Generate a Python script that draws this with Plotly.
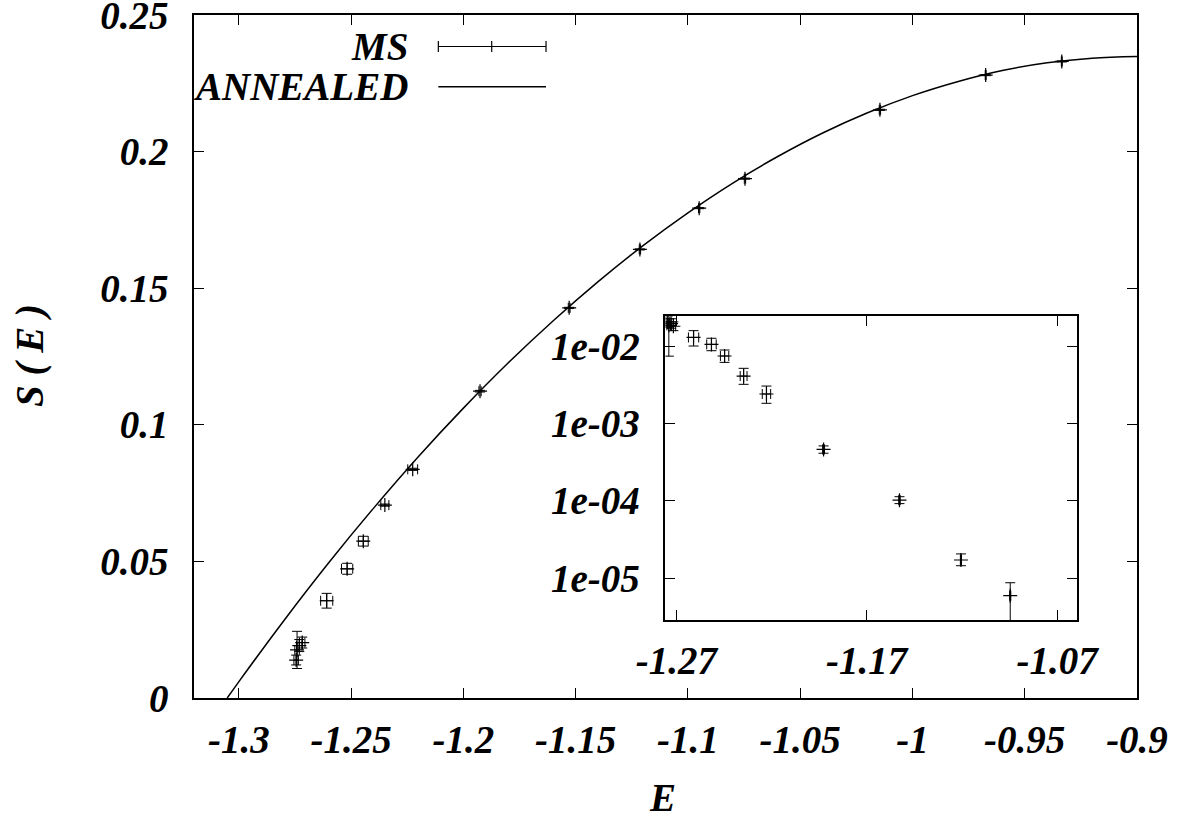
import plotly.graph_objects as go

# ---------------- data ----------------
# MS data (main panel): energy, entropy, errors
ms_E = [-1.2745, -1.2741, -1.2731, -1.2718, -1.2609, -1.2518, -1.2446, -1.2350, -1.2226,
        -1.1926, -1.1529, -1.1214, -1.0950, -1.0746, -1.0145, -0.9674, -0.9335]
ms_S = [0.0139, 0.0176, 0.0192, 0.0203, 0.0356, 0.0473, 0.0574, 0.0706, 0.0837,
        0.1123, 0.1428, 0.1642, 0.1793, 0.1901, 0.2153, 0.2280, 0.2330]
ms_dE = [0.0010, 0.0010, 0.0012, 0.0012, 0.0027, 0.0025, 0.0022, 0.0018, 0.0022,
         0.0005, 0.0004, 0.0003, 0.0003, 0.0003, 0.0003, 0.0002, 0.0002]
ms_dS = [0.0018, 0.0068, 0.0022, 0.0020, 0.0027, 0.0020, 0.0018, 0.0004, 0.0004,
         0.0003, 0.0002, 0.0002, 0.0002, 0.0002, 0.0002, 0.0002, 0.0002]

# ANNEALED curve
ann_E = [-1.3052, -1.30, -1.28, -1.26, -1.24, -1.22, -1.20, -1.18, -1.16, -1.14, -1.12,
         -1.10, -1.08, -1.06, -1.04, -1.02, -1.00, -0.98, -0.96, -0.94, -0.92, -0.90]
ann_S = [0.0, 0.0060, 0.0283, 0.0495, 0.0695, 0.0884, 0.1061, 0.1227, 0.1381, 0.1524, 0.1656,
         0.1776, 0.1885, 0.1982, 0.2068, 0.2142, 0.2205, 0.2256, 0.2297, 0.2325, 0.2342, 0.2348]

# inset (log scale) data
in_E = [-1.2745, -1.2740, -1.2728, -1.2716, -1.2610, -1.2516, -1.2447, -1.2347, -1.2227,
        -1.1927, -1.1528, -1.1205, -1.0946]
in_V = [0.0205, 0.0185, 0.0195, 0.0180, 0.0129, 0.0105, 0.00743, 0.00409, 0.0024,
        4.62e-4, 1.02e-4, 1.72e-5, 5.94e-6]
in_plus = [0.0040, 0.0040, 0.0030, 0.0025, 0.0029, 0.0021, 0.00145, 0.00106, 0.00064,
           0.5e-4, 1.1e-5, 3.4e-6, 2.8e-6]
in_minus = [0.0030, 0.0111, 0.0025, 0.0022, 0.0029, 0.0018, 0.00128, 0.00089, 0.00058,
            0.5e-4, 1.0e-5, 2.7e-6, 5.3e-6]
in_dE = [0.0010, 0.0010, 0.0012, 0.0012, 0.0027, 0.0025, 0.0022, 0.0018, 0.0022,
         0.0005, 0.0004, 0.0003, 0.0003]

main_xticks = [-1.3, -1.25, -1.2, -1.15, -1.1, -1.05, -1.0, -0.95, -0.9]
main_xtext = ["-1.3", "-1.25", "-1.2", "-1.15", "-1.1", "-1.05", "-1", "-0.95", "-0.9"]
main_yticks = [0, 0.05, 0.1, 0.15, 0.2, 0.25]
main_ytext = ["0", "0.05", "0.1", "0.15", "0.2", "0.25"]
in_xticks = [-1.27, -1.17, -1.07]
in_xtext = ["-1.27", "-1.17", "-1.07"]
in_yticks = [1e-5, 1e-4, 1e-3, 1e-2]
in_ytext = ["1e-05", "1e-04", "1e-03", "1e-02"]

# ---------------- figure ----------------
FONT = "Liberation Serif"
FS = 39
tfont = dict(family=FONT, size=FS, color="black", weight="bold", style="italic")

fig = go.Figure()

fig.add_trace(go.Scatter(
    x=ann_E, y=ann_S, mode="lines", line=dict(color="black", width=1.5, shape="spline"),
    xaxis="x", yaxis="y", showlegend=False, hoverinfo="skip"))

fig.add_trace(go.Scatter(
    x=ms_E, y=ms_S, mode="markers",
    marker=dict(symbol="cross-thin", size=10, line=dict(color="black", width=1.2), color="black"),
    error_x=dict(type="data", array=ms_dE, color="black", thickness=1, width=5),
    error_y=dict(type="data", array=ms_dS, color="black", thickness=1, width=5),
    xaxis="x", yaxis="y", showlegend=False))

fig.add_trace(go.Scatter(
    x=in_E, y=in_V, mode="markers",
    marker=dict(symbol="cross-thin", size=10, line=dict(color="black", width=1.2), color="black"),
    error_x=dict(type="data", array=in_dE, color="black", thickness=1, width=5),
    error_y=dict(type="data", symmetric=False, array=in_plus, arrayminus=in_minus,
                 color="black", thickness=1, width=5),
    xaxis="x2", yaxis="y2", showlegend=False))

axis_common = dict(showline=True, linecolor="black", linewidth=1.5, mirror="allticks",
                   ticks="inside", ticklen=10, tickwidth=1.3, tickcolor="black",
                   showgrid=False, zeroline=False, tickfont=tfont, tickmode="array",
                   ticklabeloverflow="allow", automargin=False)

fig.update_layout(
    width=1181, height=821,
    margin=dict(l=194, r=44, t=15, b=123, autoexpand=False),
    paper_bgcolor="white", plot_bgcolor="white",
    xaxis=dict(range=[-1.32, -0.9], tickvals=main_xticks, ticktext=main_xtext,
               domain=[0, 1], anchor="y", ticklabelstandoff=6, **axis_common),
    yaxis=dict(range=[0, 0.25], tickvals=main_yticks, ticktext=main_ytext,
               domain=[0, 1], anchor="x", ticklabelstandoff=16, **axis_common),
    xaxis2=dict(range=[-1.2758, -1.0595], tickvals=in_xticks, ticktext=in_xtext,
                domain=[0.4999, 0.9364], anchor="y2", ticklabelstandoff=5, **axis_common),
    yaxis2=dict(type="log", range=[-5.54, -1.612], tickvals=in_yticks, ticktext=in_ytext,
                domain=[0.1142, 0.5593], anchor="x2", ticklabelstandoff=16, **axis_common),
    showlegend=False,
)

# axis titles
fig.add_annotation(text="E", xref="paper", yref="paper", x=0.4963, y=-0.1450,
                   showarrow=False, font=tfont, xanchor="center", yanchor="middle")
fig.add_annotation(text="S ( E )", xref="paper", yref="paper", x=-0.1739, y=0.5007,
                   showarrow=False, font=tfont, textangle=-90, xanchor="center", yanchor="middle")

# key (text on the left, sample on the right, as in the reference)
fig.add_annotation(text="MS", xref="paper", yref="paper", x=0.2291, y=0.9539,
                   showarrow=False, font=tfont, xanchor="right", yanchor="middle")
fig.add_annotation(text="ANNEALED", xref="paper", yref="paper", x=0.2291, y=0.8950,
                   showarrow=False, font=tfont, xanchor="right", yanchor="middle")
key_line = dict(color="black", width=1.2)
fig.add_shape(type="line", xref="paper", yref="paper", x0=0.2591, x1=0.3733, y0=0.9539, y1=0.9539, line=key_line)
for kx in (0.2591, 0.3157, 0.3733):
    fig.add_shape(type="line", xref="paper", yref="paper", x0=kx, x1=kx, y0=0.9459, y1=0.9619, line=key_line)
fig.add_shape(type="line", xref="paper", yref="paper", x0=0.2591, x1=0.3733, y0=0.8950, y1=0.8950,
              line=dict(color="black", width=1.5))

fig.write_html("out.html", config={"displayModeBar": False},
               post_script="document.body.style.margin='0';document.body.style.overflow='hidden';")
